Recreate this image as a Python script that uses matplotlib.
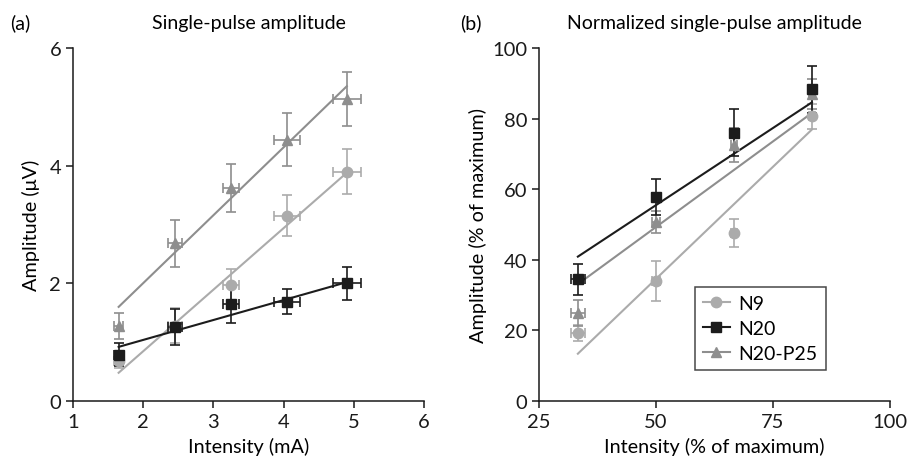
import numpy as np
import matplotlib.pyplot as plt
from matplotlib.lines import Line2D

plt.rcParams['font.family'] = ['Lato', 'DejaVu Sans']

# panel (a): absolute amplitude vs intensity in mA
int_mA = [1.65, 2.45, 3.25, 4.05, 4.9]
int_mA_err = [0.06, 0.1, 0.12, 0.18, 0.2]
a_n9 = [0.68, 1.28, 1.97, 3.15, 3.9]
a_n9_err = [0.12, 0.3, 0.28, 0.35, 0.39]
a_n20 = [0.79, 1.26, 1.65, 1.69, 2.0]
a_n20_err = [0.2, 0.31, 0.32, 0.21, 0.28]
a_p25 = [1.28, 2.68, 3.62, 4.44, 5.13]
a_p25_err = [0.22, 0.4, 0.41, 0.45, 0.46]
# regression line end values (at first and last intensity)
a_fit_n9 = [0.48, 3.88]
a_fit_n20 = [0.92, 2.02]
a_fit_p25 = [1.6, 5.35]

# panel (b): normalized amplitude vs normalized intensity
int_pct = [33.3, 50, 66.7, 83.3]
int_pct_err = [1.5, 0.8, 0.6, 0.6]
b_n9 = [19.3, 34.1, 47.5, 80.6]
b_n9_err = [2.3, 5.7, 4.0, 3.6]
b_n20 = [34.5, 57.9, 76.0, 88.3]
b_n20_err = [4.4, 5.1, 6.7, 6.6]
b_p25 = [24.9, 50.7, 72.6, 87.0]
b_p25_err = [3.6, 3.2, 4.8, 4.2]
b_fit_n9 = [13.4, 76.9]
b_fit_n20 = [40.9, 84.6]
b_fit_p25 = [33.1, 81.6]

c_n9 = '#ababab'
c_n20 = '#1c1c1c'
c_p25 = '#8e8e8e'

fig = plt.figure(figsize=(9.07, 4.64), dpi=100)
ax1 = fig.add_axes([0.0805, 0.1336, 0.387, 0.7608])
ax2 = fig.add_axes([0.5943, 0.1336, 0.387, 0.7608])

def draw(ax, x, xerr, series):
    for y, yerr, fit, col, mk, ms in series:
        ax.errorbar(x, y, yerr=yerr, xerr=xerr, fmt=mk, color=col, ms=ms,
                    ecolor=col, elinewidth=1.2, capsize=3.5, capthick=1.2)
        ax.plot([x[0], x[-1]], fit, color=col, lw=1.5)

draw(ax1, int_mA, int_mA_err, [
    (a_p25, a_p25_err, a_fit_p25, c_p25, '^', 7),
    (a_n9, a_n9_err, a_fit_n9, c_n9, 'o', 7.5),
    (a_n20, a_n20_err, a_fit_n20, c_n20, 's', 7.5),
])
draw(ax2, int_pct, int_pct_err, [
    (b_n9, b_n9_err, b_fit_n9, c_n9, 'o', 7.5),
    (b_p25, b_p25_err, b_fit_p25, c_p25, '^', 7),
    (b_n20, b_n20_err, b_fit_n20, c_n20, 's', 7.5),
])

for ax in (ax1, ax2):
    for s in ('top', 'right'):
        ax.spines[s].set_visible(False)
    for s in ('left', 'bottom'):
        ax.spines[s].set_linewidth(1.1)
        ax.spines[s].set_color('#1a1a1a')
    ax.tick_params(direction='out', length=5, width=1.1, labelsize=14.5,
                   colors='#1a1a1a')

ax1.set_xlim(1, 6)
ax1.set_ylim(0, 6)
ax1.set_xticks([1, 2, 3, 4, 5, 6])
ax1.set_yticks([0, 2, 4, 6])
ax1.set_xlabel('Intensity (mA)', fontsize=14.3, labelpad=5)
ax1.set_ylabel('Amplitude (\u03bcV)', fontsize=14.3, labelpad=7)

ax2.set_xlim(25, 100)
ax2.set_ylim(0, 100)
ax2.set_xticks([25, 50, 75, 100])
ax2.set_yticks([0, 20, 40, 60, 80, 100])
ax2.set_xlabel('Intensity (% of maximum)', fontsize=14.3, labelpad=5)
ax2.set_ylabel('Amplitude (% of maximum)', fontsize=14.3, labelpad=4)

fig.text(0.011, 0.95, '(a)', fontsize=14, va='center')
fig.text(0.274, 0.95, 'Single-pulse amplitude', fontsize=14, ha='center', va='center')
fig.text(0.507, 0.95, '(b)', fontsize=14, va='center')
fig.text(0.788, 0.95, 'Normalized single-pulse amplitude', fontsize=14, ha='center', va='center')

handles = [
    Line2D([], [], color=c_n9, marker='o', ms=7.5, lw=1.5),
    Line2D([], [], color=c_n20, marker='s', ms=7.5, lw=1.5),
    Line2D([], [], color=c_p25, marker='^', ms=7, lw=1.5),
]
leg = ax2.legend(handles, ['N9', 'N20', 'N20-P25'],
                 loc='lower left', bbox_to_anchor=(0.444, 0.088),
                 fontsize=14, frameon=True, fancybox=False,
                 handlelength=1.4, borderpad=0.4, labelspacing=0.42,
                 handletextpad=0.45, borderaxespad=0)
leg.get_frame().set_edgecolor('#1a1a1a')
leg.get_frame().set_linewidth(1.1)

fig.savefig('out.png', dpi=100)
